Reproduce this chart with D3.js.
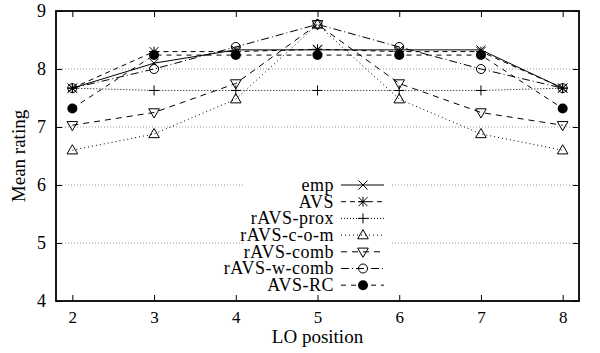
<!DOCTYPE html>
<html><head><meta charset="utf-8">
<script src="https://cdn.jsdelivr.net/npm/d3@7"></script>
<style>
body{margin:0;background:#fff;}
svg text{font-family:"Liberation Serif","Times New Roman",serif;fill:#000;}
</style></head>
<body><svg id="c" width="600" height="353"></svg>
<script>
const positions = [2,3,4,5,6,7,8];
const emp      = [7.67, 8.10, 8.33, 8.33, 8.33, 8.33, 7.67];
const avs      = [7.67, 8.30, 8.30, 8.34, 8.30, 8.30, 7.67];
const ravsProx = [7.67, 7.63, 7.63, 7.63, 7.63, 7.63, 7.67];
const ravsCom  = [6.60, 6.88, 7.48, 8.77, 7.48, 6.88, 6.60];
const ravsComb = [7.03, 7.25, 7.75, 8.77, 7.75, 7.25, 7.03];
const ravsWComb= [7.67, 8.00, 8.38, 8.77, 8.38, 8.00, 7.67];
const avsRC    = [7.32, 8.24, 8.24, 8.24, 8.24, 8.24, 7.32];
const seriesNames = ["emp","AVS","rAVS-prox","rAVS-c-o-m","rAVS-comb","rAVS-w-comb","AVS-RC"];
const yTicks = [4,5,6,7,8,9];
const gridTicks = [5,6,7,8];

const allValues = [emp, avs, ravsProx, ravsCom, ravsComb, ravsWComb, avsRC];
const dashes = [null, "5,4", "1,2", "1,3", "6,5", "8,3,1,3", "5,5"];
const markers = ["x","star","plus","tri","tridown","circle","dot"];

const svg = d3.select("#c");
const L=56, R=579, T=11, B=301;
const x = d3.scaleLinear().domain([1.8, 8.2]).range([L, R]);
const y = d3.scaleLinear().domain([4, 9]).range([B, T]);

// grid
const grid = svg.append("g");
gridTicks.forEach(v=>{
  grid.append("line").attr("x1",L).attr("x2",R).attr("y1",y(v)).attr("y2",y(v))
    .attr("stroke","#9a9a9a").attr("stroke-width",1).attr("stroke-dasharray","1,2");
});
// opaque key area
svg.append("rect").attr("x",243).attr("y",172).attr("width",149).attr("height",124).attr("fill","#fff");

// axes (inward ticks)
const fmt = d3.format("d");
const ax = svg.append("g").attr("transform",`translate(0,${B})`)
  .call(d3.axisBottom(x).tickValues(positions).tickSizeInner(-6).tickSizeOuter(0).tickPadding(0).tickFormat(fmt));
ax.select(".domain").remove();
ax.selectAll(".tick line").attr("stroke","#000").attr("stroke-width",1);
ax.selectAll(".tick text").attr("y",22).attr("dy",null).style("font-size","17px");
const axT = svg.append("g").attr("transform",`translate(0,${T})`)
  .call(d3.axisTop(x).tickValues(positions).tickSizeInner(-6).tickSizeOuter(0).tickFormat(""));
axT.select(".domain").remove();
axT.selectAll(".tick line").attr("stroke","#000");
const ay = svg.append("g").attr("transform",`translate(${L},0)`)
  .call(d3.axisLeft(y).tickValues(yTicks).tickSizeInner(-6).tickSizeOuter(0).tickPadding(0).tickFormat(fmt));
ay.select(".domain").remove();
ay.selectAll(".tick line").attr("stroke","#000");
ay.selectAll(".tick text").attr("x",-10).style("font-size","18px");
const ayR = svg.append("g").attr("transform",`translate(${R},0)`)
  .call(d3.axisRight(y).tickValues(yTicks).tickSizeInner(-6).tickSizeOuter(0).tickFormat(""));
ayR.select(".domain").remove();
ayR.selectAll(".tick line").attr("stroke","#000");

svg.append("rect").attr("x",L).attr("y",T).attr("width",R-L).attr("height",B-T)
  .attr("fill","none").attr("stroke","#000").attr("stroke-width",1.8);

// markers
function marker(g, type, cx, cy){
  const s=4.5;
  if(type==="x"){
    g.append("path").attr("d",`M${cx-s},${cy-s}L${cx+s},${cy+s}M${cx-s},${cy+s}L${cx+s},${cy-s}`).attr("stroke","#000").attr("fill","none");
  } else if(type==="plus"){
    g.append("path").attr("d",`M${cx-5},${cy}H${cx+5}M${cx},${cy-5}V${cy+5}`).attr("stroke","#000").attr("fill","none");
  } else if(type==="star"){
    g.append("path").attr("d",`M${cx-s},${cy-s}L${cx+s},${cy+s}M${cx-s},${cy+s}L${cx+s},${cy-s}M${cx-5},${cy}H${cx+5}M${cx},${cy-5}V${cy+5}`).attr("stroke","#000").attr("fill","none");
  } else if(type==="tri"){
    g.append("path").attr("d",`M${cx},${cy-5.5}L${cx+5.3},${cy+3.7}L${cx-5.3},${cy+3.7}Z`).attr("stroke","#000").attr("fill","none");
  } else if(type==="tridown"){
    g.append("path").attr("d",`M${cx},${cy+5.5}L${cx+5.3},${cy-3.7}L${cx-5.3},${cy-3.7}Z`).attr("stroke","#000").attr("fill","none");
  } else if(type==="circle"){
    g.append("circle").attr("cx",cx).attr("cy",cy).attr("r",4.5).attr("stroke","#000").attr("fill","none");
  } else if(type==="dot"){
    g.append("circle").attr("cx",cx).attr("cy",cy).attr("r",5).attr("fill","#000");
  }
}

const line = d3.line().x(d=>x(d[0])).y(d=>y(d[1]));
allValues.forEach((vals,i)=>{
  const g = svg.append("g");
  const pts = positions.map((p,j)=>[p, vals[j]]);
  g.append("path").attr("d",line(pts)).attr("fill","none").attr("stroke","#000")
    .attr("stroke-width",1).attr("stroke-dasharray",dashes[i]);
  pts.forEach(p=>marker(g, markers[i], x(p[0]), y(p[1])));
});

// legend
const rowY0 = 185, rowDy = 16.7;
seriesNames.forEach((n,i)=>{
  const yy = rowY0 + i*rowDy;
  const g = svg.append("g");
  g.append("text").attr("x",334).attr("y",yy).attr("dy","0.33em").attr("text-anchor","end")
    .style("font-size","18px").style("letter-spacing","0.5px").text(n);
  g.append("line").attr("x1",341).attr("x2",384).attr("y1",yy).attr("y2",yy)
    .attr("stroke","#000").attr("stroke-width",1).attr("stroke-dasharray",dashes[i]);
  marker(g, markers[i], 363, yy);
});

// axis titles
svg.append("text").attr("x",(L+R)/2).attr("y",343).attr("text-anchor","middle")
  .style("font-size","19px").text("LO position");
svg.append("text").attr("transform",`translate(25,156) rotate(-90)`).attr("text-anchor","middle")
  .style("font-size","19px").text("Mean rating");
</script></body></html>
